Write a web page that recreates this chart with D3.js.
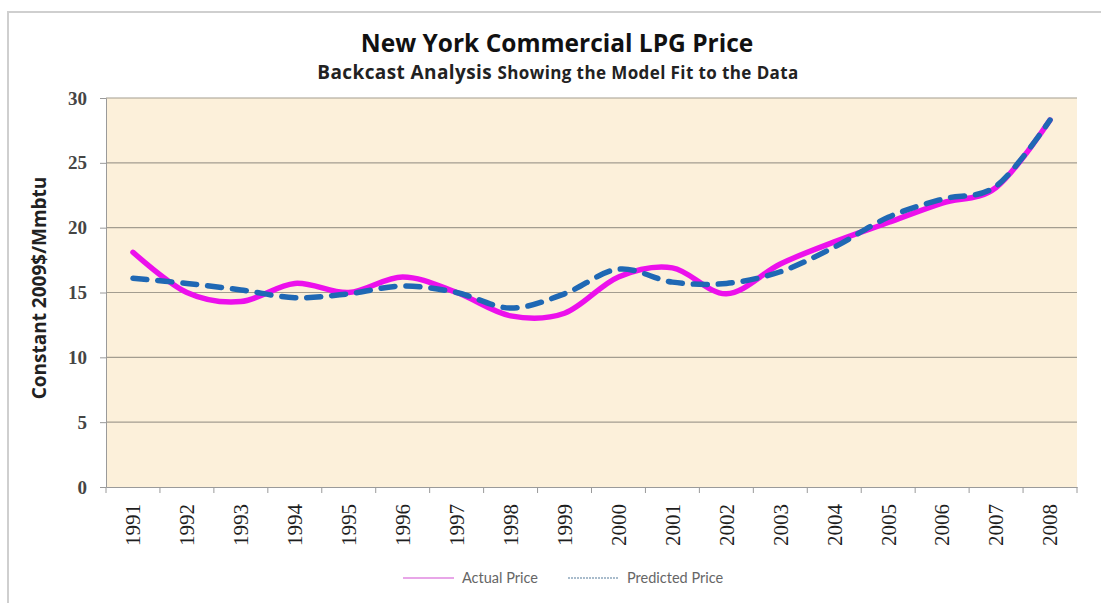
<!DOCTYPE html>
<html lang="en">
<head>
    <meta charset="utf-8">
    <title>New York Commercial LPG Price</title>
    <script src="https://d3js.org/d3.v7.min.js"></script>
    <style>
        body { margin: 0; background: #fff; }
    </style>
</head>
<body>
    <div id="chart-container"></div>

    <script>
        // data
        const years = ['1991', '1992', '1993', '1994', '1995', '1996', '1997', '1998', '1999',
                       '2000', '2001', '2002', '2003', '2004', '2005', '2006', '2007', '2008'];
        const actualPrice = [18.1, 15.0, 14.3, 15.7, 15.0, 16.2, 15.0, 13.2, 13.4,
                             16.2, 16.9, 14.9, 17.2, 18.9, 20.4, 21.9, 23.1, 28.3];
        const predictedPrice = [16.1, 15.7, 15.2, 14.6, 14.9, 15.5, 15.0, 13.8, 14.9,
                                16.8, 15.8, 15.7, 16.6, 18.5, 20.8, 22.2, 23.2, 28.3];
        const yTicks = [0, 5, 10, 15, 20, 25, 30];

        const width = 1101;
        const height = 603;

        const paddingLeft = 106;
        const paddingRight = 24;
        const paddingTop = 98;
        const paddingBottom = 116;

        const graphWidth = width - (paddingLeft + paddingRight);
        const graphHeight = height - (paddingTop + paddingBottom);

        const svg = d3.select('#chart-container')
            .append('svg')
            .attr('width', width)
            .attr('height', height);

        // chart frame
        svg.append('rect')
            .attr('x', 8)
            .attr('y', 12)
            .attr('width', width + 10)
            .attr('height', height + 10)
            .style('fill', '#fff')
            .style('stroke', '#cfcfcf')
            .style('stroke-width', 2);

        const xScale = d3.scaleBand()
            .domain(years)
            .range([0, graphWidth]);

        const yScale = d3.scaleLinear()
            .domain([0, 30])
            .range([graphHeight, 0]);

        const graphGroup = svg.append('g')
            .attr('transform', `translate(${paddingLeft}, ${paddingTop})`);

        // plot background
        graphGroup.append('rect')
            .attr('width', graphWidth)
            .attr('height', graphHeight)
            .style('fill', '#fcf0da');

        // horizontal grid lines
        graphGroup.selectAll('line.grid')
            .data(yTicks.slice(1))
            .enter()
            .append('line')
            .attr('class', 'grid')
            .attr('x1', 0)
            .attr('x2', graphWidth)
            .attr('y1', d => yScale(d))
            .attr('y2', d => yScale(d))
            .style('stroke', '#a39d90')
            .style('stroke-width', 1.2);

        // axes
        const yAxis = d3.axisLeft(yScale)
            .tickValues(yTicks)
            .tickSize(6)
            .tickPadding(13);

        const yAxisGroup = graphGroup.append('g').call(yAxis);
        yAxisGroup.select('.domain').style('stroke', '#9a9a9a');
        yAxisGroup.selectAll('line').style('stroke', '#9a9a9a');
        yAxisGroup.selectAll('text')
            .style('font-family', '"Liberation Serif", serif')
            .style('font-weight', 'bold')
            .style('font-size', '19px')
            .style('fill', '#454545');

        const xAxis = d3.axisBottom(xScale).tickSize(0).tickPadding(0);
        const xAxisGroup = graphGroup.append('g')
            .attr('transform', `translate(0,${graphHeight})`)
            .call(xAxis);
        xAxisGroup.select('.domain').style('stroke', '#9a9a9a');
        xAxisGroup.selectAll('text')
            .attr('transform', 'rotate(-90)')
            .attr('x', -17)
            .attr('y', 0)
            .attr('dy', '0.35em')
            .style('text-anchor', 'end')
            .style('font-family', '"Liberation Serif", serif')
            .style('font-size', '21px')
            .style('fill', '#1e1e1e');

        // tick marks between categories
        graphGroup.selectAll('line.xtick')
            .data(years.concat(['end']))
            .enter()
            .append('line')
            .attr('class', 'xtick')
            .attr('x1', (d, i) => i * xScale.step())
            .attr('x2', (d, i) => i * xScale.step())
            .attr('y1', graphHeight)
            .attr('y2', graphHeight + 6)
            .style('stroke', '#9a9a9a');

        const line = d3.line()
            .curve(d3.curveCatmullRom.alpha(0))
            .x((d, i) => xScale(years[i]) + xScale.bandwidth() / 2)
            .y(d => yScale(d));

        graphGroup.append('path')
            .datum(actualPrice)
            .attr('d', line)
            .style('fill', 'none')
            .style('stroke', '#ec10ec')
            .style('stroke-width', 5.5)
            .style('stroke-linecap', 'round');

        graphGroup.append('path')
            .datum(predictedPrice)
            .attr('d', line)
            .style('fill', 'none')
            .style('stroke', '#1f68b4')
            .style('stroke-width', 5.5)
            .style('stroke-dasharray', '14,11')
            .style('stroke-linecap', 'round');

        // titles
        svg.append('text')
            .attr('x', 557)
            .attr('y', 52)
            .attr('text-anchor', 'middle')
            .style('font-family', '"Open Sans", sans-serif')
            .style('font-weight', 'bold')
            .style('font-size', '24.5px')
            .style('fill', '#111')
            .text('New York Commercial LPG Price');

        const sub = svg.append('text')
            .attr('x', 558)
            .attr('y', 79)
            .attr('text-anchor', 'middle')
            .style('font-family', '"Open Sans", sans-serif')
            .style('font-weight', 'bold')
            .style('letter-spacing', '0.4px')
            .style('fill', '#222');
        sub.append('tspan').style('font-size', '19px').text('Backcast Analysis ');
        sub.append('tspan').style('font-size', '17px').text('Showing the Model Fit to the Data');

        svg.append('text')
            .attr('transform', 'rotate(-90)')
            .attr('x', -288)
            .attr('y', 46)
            .attr('text-anchor', 'middle')
            .style('font-family', '"Open Sans", sans-serif')
            .style('font-weight', 'bold')
            .style('font-size', '19px')
            .style('fill', '#222')
            .text('Constant 2009$/Mmbtu');

        // legend
        const legendData = [
            { label: 'Actual Price', x: 403, color: '#e8a6e8', dash: null },
            { label: 'Predicted Price', x: 568, color: '#a9bccc', dash: '2,1' }
        ];
        const legendGroup = svg.append('g').attr('transform', 'translate(0, 578)');
        legendGroup.selectAll('line')
            .data(legendData)
            .enter()
            .append('line')
            .attr('x1', d => d.x)
            .attr('x2', d => d.x + 51)
            .attr('y1', 0)
            .attr('y2', 0)
            .style('stroke', d => d.color)
            .style('stroke-width', 2)
            .style('stroke-dasharray', d => d.dash);
        legendGroup.selectAll('text')
            .data(legendData)
            .enter()
            .append('text')
            .attr('x', d => d.x + 59)
            .attr('y', 0)
            .attr('dy', '0.35em')
            .style('font-family', 'Lato, sans-serif')
            .style('font-size', '14.5px')
            .style('fill', '#666')
            .text(d => d.label);
    </script>
</body>
</html>
